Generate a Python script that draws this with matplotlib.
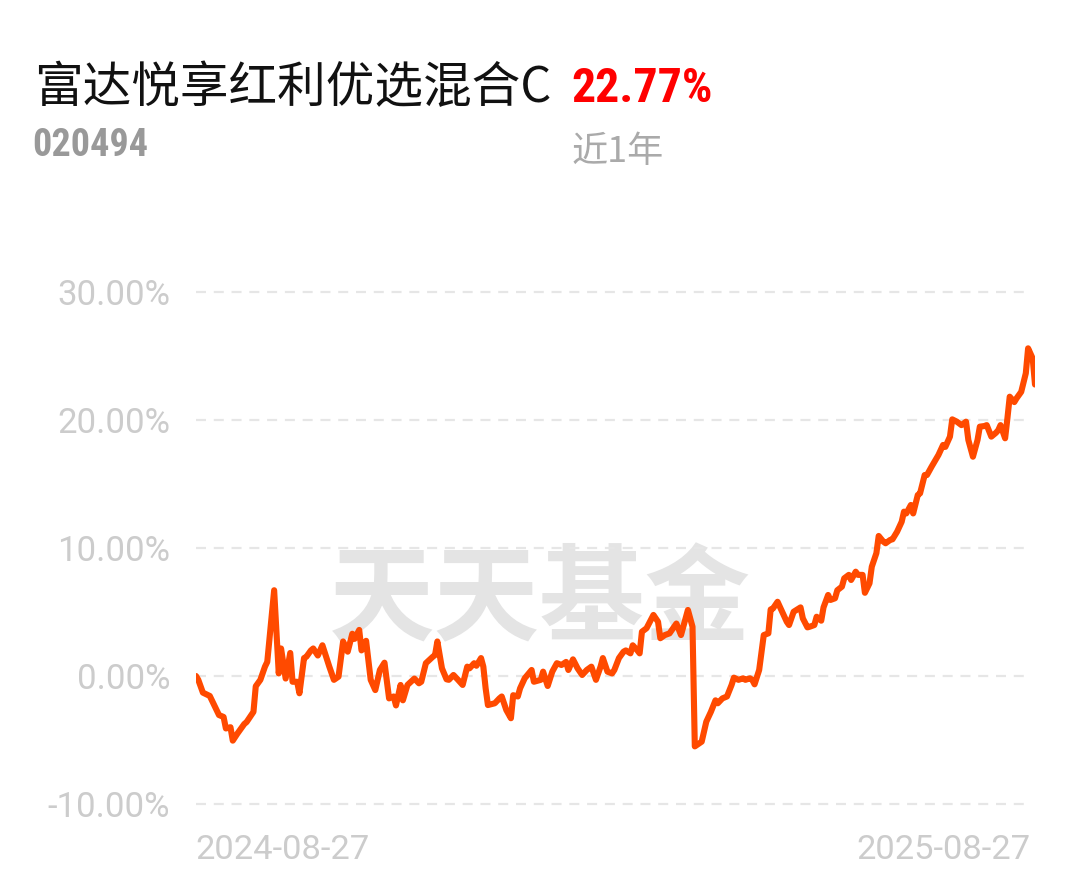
import matplotlib
matplotlib.use("Agg")
import matplotlib.pyplot as plt
import pandas as pd
import numpy as np

# ---------------- data ----------------
fund_name = "富达悦享红利优选混合C"
fund_code = "020494"
period_return = "22.77%"
period_label = "近1年"
watermark = "天天基金"
start_date = "2024-08-27"
end_date = "2025-08-27"
x_tick_labels = ["2024-08-27", "2025-08-27"]
y_ticks = [-10, 0, 10, 20, 30]

# days since start date
days = [0, 1, 3, 6, 8, 10, 12, 13, 15, 16, 18, 21, 22, 25, 26, 28, 30, 31, 34, 36,
        37, 39, 41, 42, 44, 45, 47, 48, 50, 51, 53, 55, 58, 60, 62, 64, 66, 68, 69, 71,
        72, 74, 76, 78, 80, 82, 84, 86, 87, 89, 90, 92, 95, 97, 98, 100, 103, 104, 105, 107,
        109, 110, 112, 114, 116, 118, 119, 121, 122, 124, 125, 126, 127, 130, 132, 133, 135, 137, 138, 140,
        141, 143, 146, 147, 150, 151, 153, 155, 157, 159, 161, 162, 164, 166, 168, 170, 172, 174, 176, 177,
        179, 181, 182, 184, 186, 187, 189, 190, 192, 193, 194, 196, 199, 201, 202, 204, 206, 208, 209, 211,
        213, 214, 216, 217, 219, 220, 222, 224, 226, 227, 229, 231, 233, 234, 236, 238, 239, 241, 242, 243,
        245, 247, 249, 250, 251, 253, 255, 257, 258, 260, 263, 264, 266, 267, 269, 270, 272, 273, 275, 276,
        278, 279, 281, 282, 284, 285, 287, 288, 290, 291, 293, 294, 296, 297, 299, 300, 302, 303, 305, 307,
        308, 309, 311, 312, 314, 315, 317, 318, 320, 323, 325, 326, 328, 329, 331, 333, 335, 336, 338, 340,
        341, 343, 344, 346, 348, 349, 350, 352, 353, 354, 356, 357, 359, 361, 362, 364, 365]
returns = [0.0, -0.3, -1.3, -1.56, -2.3, -3.05, -3.2, -4.1, -4.0, -5.05, -4.5, -3.75, -3.6, -2.8, -0.8, -0.3, 0.73, 1.1, 6.7, 0.2,
           2.15, -0.2, 1.8, -0.45, -0.45, -1.35, 1.4, 1.5, 2.0, 2.15, 1.6, 2.4, 0.73, -0.3, -0.05, 2.7, 1.9, 3.3, 2.9, 3.6,
           2.0, 2.75, -0.3, -1.1, 0.47, 1.04, -1.75, -1.6, -2.3, -0.7, -1.9, -0.7, -0.2, -0.57, -0.45, 1.0, 1.5, 1.64, 2.7, 0.6,
           -0.26, -0.3, 0.08, -0.3, -0.7, 0.73, 0.6, 1.0, 0.8, 1.4, 0.73, -0.96, -2.27, -2.13, -1.75, -1.6, -2.66, -3.3, -1.5, -1.6,
           -0.96, -0.18, 0.47, -0.45, -0.3, 0.34, -0.78, 0.34, 1.0, 0.86, 1.1, 0.47, 1.3, 0.6, 0.08, 0.47, 0.73, -0.3, 0.73, 1.4,
           0.34, 0.2, 0.47, 1.4, 1.9, 2.0, 1.77, 2.4, 2.0, 1.77, 3.46, 3.73, 4.77, 4.24, 2.95, 3.2, 3.33, 3.85, 4.1, 3.2,
           4.5, 5.16, 3.85, -5.5, -5.26, -5.13, -3.57, -2.8, -1.9, -2.13, -1.75, -1.6, -0.7, -0.13, -0.3, -0.18, -0.3, -0.18, -0.3, -0.65,
           0.47, 3.2, 3.33, 5.2, 5.27, 5.8, 5.02, 4.24, 3.98, 5.02, 5.36, 4.5, 3.8, 3.85, 3.98, 4.63, 4.32, 5.36, 6.33, 5.94,
           6.07, 6.7, 6.98, 7.63, 7.9, 7.5, 8.15, 7.9, 7.9, 6.5, 7.24, 8.54, 9.6, 10.94, 10.5, 10.37, 10.63, 10.68, 11.27, 12.05,
           12.84, 12.7, 13.36, 12.7, 14.14, 14.27, 15.7, 15.7, 16.35, 17.27, 18.05, 17.9, 18.7, 20.05, 19.87, 19.6, 19.87, 18.44, 17.13, 18.44,
           19.48, 19.53, 19.6, 18.7, 19.0, 19.2, 19.6, 18.57, 20.13, 21.82, 21.4, 21.7, 22.2, 23.65, 25.6, 24.8, 22.77]

# ---------------- figure ----------------
W, H = 1080, 881
fig = plt.figure(figsize=(W / 100, H / 100), dpi=100)
fig.patch.set_facecolor("white")

def fx(px):
    return px / W

def fy(py):
    return 1 - py / H

ax_left, ax_right = 196, 1035
ax_top, ax_bottom = 280, 816
ax = fig.add_axes([fx(ax_left), fy(ax_bottom), (ax_right - ax_left) / W, (ax_bottom - ax_top) / H])

dates = pd.Timestamp(start_date) + pd.to_timedelta(days, unit="D")
ax.plot(dates, returns, color="#ff4a00", lw=4.4, solid_joinstyle="round", solid_capstyle="round", zorder=3)

ax.set_xlim(pd.Timestamp(start_date), pd.Timestamp(end_date))
pad = 12 / 12.8
ax.set_ylim(y_ticks[0] - pad, y_ticks[-1] + pad)
ax.set_yticks(y_ticks)
ax.set_yticklabels([f"{v:.2f}%" for v in y_ticks])
ax.set_xticks([])
for s in ax.spines.values():
    s.set_visible(False)
ax.tick_params(axis="y", length=0, pad=18.5, labelsize=25, labelcolor="#cccccc")
for lab in ax.get_yticklabels():
    lab.set_fontfamily("Roboto")
for v in y_ticks:
    ax.axhline(v, xmin=0, xmax=0.9952, color="#e6e6e6", lw=1.6, dashes=(4.5, 3.5), zorder=1)

# watermark
ax.text(0.41, 0.40, watermark, transform=ax.transAxes, ha="center", va="center",
        fontsize=76, fontweight="bold", color="#e4e4e4", family=["Noto Sans CJK SC"], zorder=0)

# x labels
fig.text(fx(195), fy(850), x_tick_labels[0], ha="left", va="center", fontsize=24.8,
         color="#cccccc", family="Roboto")
fig.text(fx(1031), fy(850), x_tick_labels[1], ha="right", va="center", fontsize=24.8,
         color="#cccccc", family="Roboto")

# header
fig.text(fx(34), fy(88), fund_name, ha="left", va="center", fontsize=35,
         color="#111111", family=["Noto Sans CJK SC", "DejaVu Sans"])
fig.text(fx(571), fy(89), period_return, ha="left", va="center", fontsize=34.5,
         color="#ff0000", fontweight="bold", family=["Roboto Condensed", "Roboto"])
fig.text(fx(32), fy(146), fund_code, ha="left", va="center", fontsize=27.5,
         color="#999999", fontweight="bold", family=["Roboto Condensed", "Roboto"])
fig.text(fx(572), fy(152), period_label, ha="left", va="center", fontsize=26,
         color="#aaaaaa", family=["Noto Sans CJK SC", "DejaVu Sans"])

fig.savefig("out.png", dpi=100, facecolor="white")
